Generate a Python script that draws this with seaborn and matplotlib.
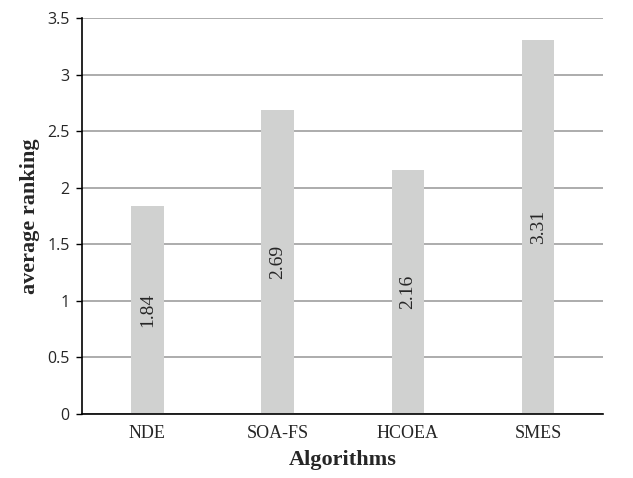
import numpy as np
import pandas as pd
import seaborn as sns
import matplotlib.pyplot as plt

algorithms = ['NDE', 'SOA-FS', 'HCOEA', 'SMES']
ranking = [1.84, 2.69, 2.16, 3.31]
yticks = [0, 0.5, 1, 1.5, 2, 2.5, 3, 3.5]

df = pd.DataFrame({'alg': algorithms, 'rank': ranking})

sns.set_style('white')
fig, ax = plt.subplots(figsize=(6.33, 4.78), dpi=100)
plt.subplots_adjust(left=0.13, right=0.953, top=0.962, bottom=0.134)

sns.barplot(data=df, x='alg', y='rank', color='#d0d1d0', saturation=1,
            width=0.25, linewidth=0, ax=ax, zorder=2)

ax.set_ylim(0, 3.5)
ax.set_xlim(-0.5, 3.5)
ax.set_yticks(yticks)
ax.set_yticklabels([f'{t:g}' for t in yticks], family='Open Sans', fontsize=11.5)
ax.yaxis.grid(True, color='#a6a6a6', linewidth=1.3, zorder=0)
ax.set_axisbelow(True)
for lab in ax.get_xticklabels():
    lab.set_family('Liberation Serif')
    lab.set_fontsize(13)
ax.tick_params(axis='x', length=0, pad=8)
ax.tick_params(axis='y', length=4, width=1, color='black', left=True, pad=5)

for s in ['top', 'right']:
    ax.spines[s].set_visible(False)
for s in ['left', 'bottom']:
    ax.spines[s].set_color('black')
    ax.spines[s].set_linewidth(1.2)

for i, v in enumerate(ranking):
    ax.text(i, v / 2, f'{v:.2f}', rotation=90, ha='center', va='center',
            family='Liberation Serif', fontsize=14)

ax.set_xlabel('Algorithms', family='Liberation Serif', fontweight='bold',
              fontsize=16, labelpad=6)
ax.set_ylabel('average ranking', family='Liberation Serif', fontweight='bold',
              fontsize=16, labelpad=5)

fig.savefig('out.png', dpi=100)
